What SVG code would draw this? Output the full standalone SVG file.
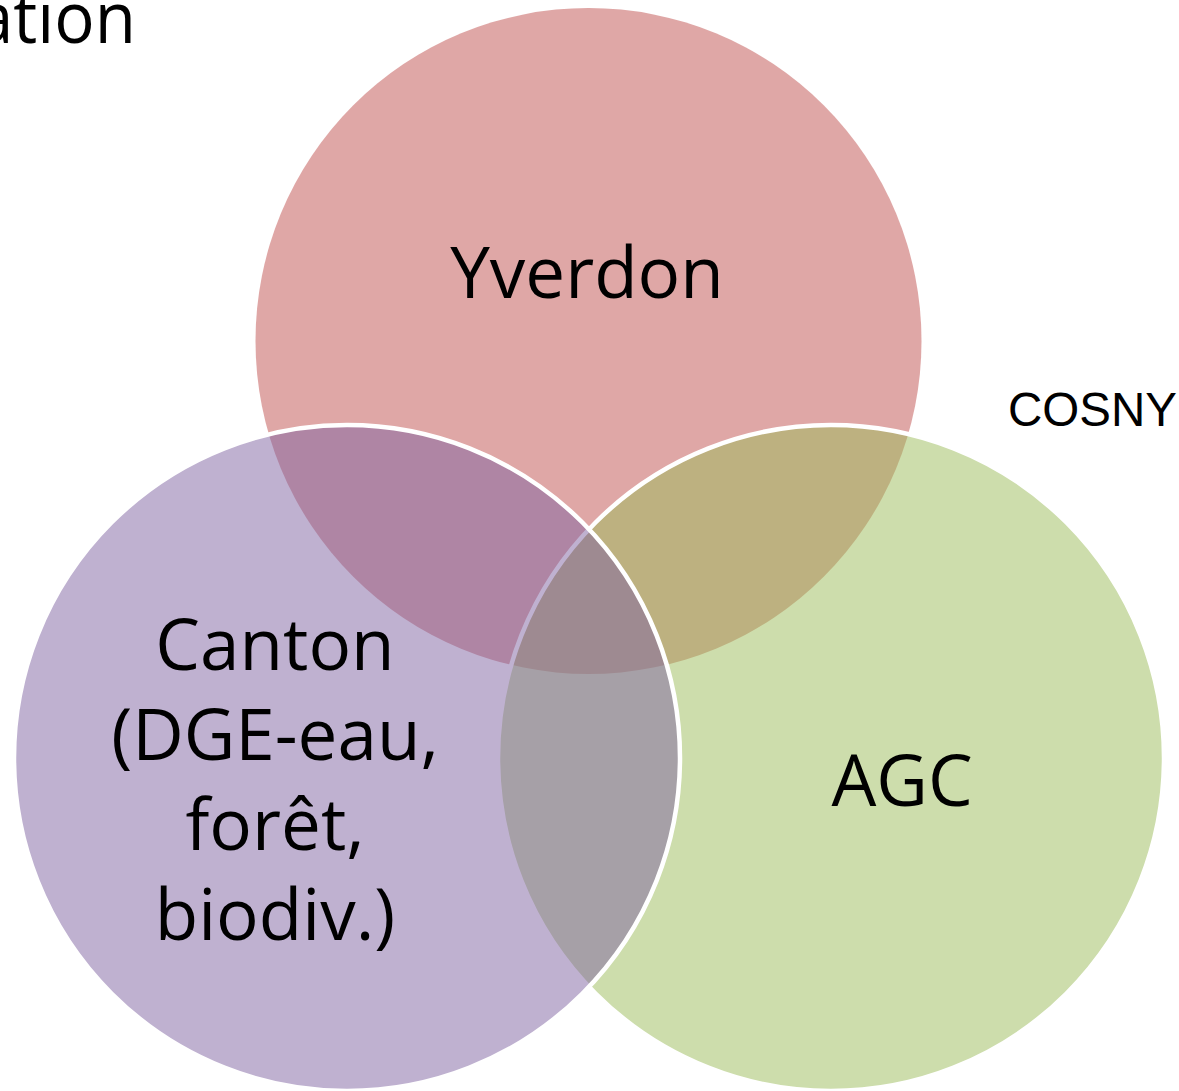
<svg xmlns="http://www.w3.org/2000/svg" width="1179" height="1091" viewBox="0 0 1179 1091">
<style>
.lbl{font-family:"Open Sans","Noto Sans",sans-serif;font-size:71px;fill:#000;text-anchor:middle}
.c{fill-opacity:0.5}
</style>
<rect width="1179" height="1091" fill="#fff"/>
<text x="-24" y="43" font-family="'Open Sans','Noto Sans',sans-serif" font-size="72" fill="#000" textLength="160" lengthAdjust="spacingAndGlyphs">ation</text>
<text x="1008" y="426" font-family="'Liberation Sans',Arial,sans-serif" font-size="47.5" fill="#000">COSNY</text>
<g id="yverdon">
<circle class="c" cx="588.5" cy="341" r="333" fill="#C0504D"/>
</g>
<g id="agc">
<circle class="c" cx="831" cy="758" r="333" fill="#9BBB59" stroke="#fff" stroke-width="4.5"/>
</g>
<g id="canton">
<circle class="c" cx="347" cy="758" r="333" fill="#8064A2" stroke="#fff" stroke-width="4.5"/>
</g>
<g id="labels">
<text class="lbl" x="587" y="298">Yverdon</text>
<text class="lbl" x="902" y="806">AGC</text>
<text class="lbl" x="275" y="670">Canton</text>
<text class="lbl" x="275" y="760">(DGE-eau,</text>
<text class="lbl" x="275" y="850">forêt,</text>
<text class="lbl" x="275" y="940">biodiv.)</text>
</g>
</svg>
